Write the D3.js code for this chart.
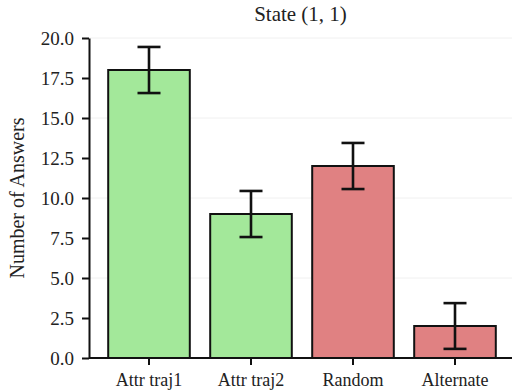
<!DOCTYPE html>
<html>
<head>
<meta charset="utf-8">
<script src="https://cdn.jsdelivr.net/npm/d3@7"></script>
<style>
  body { margin: 0; background: #fff; }
  svg text { font-family: "Liberation Serif", "Times New Roman", serif; }
</style>
</head>
<body>
<div id="chart"></div>
<script>
const categories = ["Attr traj1", "Attr traj2", "Random", "Alternate"];
const answers = [18, 9, 12, 2];
const errors = [1.44, 1.44, 1.44, 1.43];
const barColors = ["#a3e89a", "#a3e89a", "#e08182", "#e08182"];
const yTicks = [0, 2.5, 5, 7.5, 10, 12.5, 15, 17.5, 20];
const gridTicks = [0, 5, 10, 15, 20];

const width = 512;
const height = 392;
const margin = { top: 38, right: 0, bottom: 34, left: 89 };

const svg = d3.select("#chart")
  .append("svg")
  .attr("width", width)
  .attr("height", height);

const x = d3.scaleBand()
  .domain(categories)
  .range([98, 506])
  .paddingInner(0.2)
  .paddingOuter(0.1);

const y = d3.scaleLinear()
  .domain([0, 20])
  .range([height - margin.bottom, margin.top]);

// faint grid
svg.append("g")
  .selectAll("line")
  .data(gridTicks)
  .join("line")
  .attr("x1", margin.left)
  .attr("x2", width)
  .attr("y1", d => y(d))
  .attr("y2", d => y(d))
  .attr("stroke", "#f0f0f0")
  .attr("stroke-width", 1);

// bars
svg.append("g")
  .selectAll("rect")
  .data(answers)
  .join("rect")
  .attr("x", (d, i) => x(categories[i]))
  .attr("y", d => y(d))
  .attr("width", x.bandwidth())
  .attr("height", d => y(0) - y(d))
  .attr("fill", (d, i) => barColors[i])
  .attr("stroke", "#111")
  .attr("stroke-width", 2);

// error bars
const capHalf = 11.5;
const eb = svg.append("g")
  .attr("stroke", "#111")
  .attr("stroke-width", 2.6);

answers.forEach((v, i) => {
  const cx = x(categories[i]) + x.bandwidth() / 2;
  eb.append("line")
    .attr("x1", cx).attr("x2", cx)
    .attr("y1", y(v - errors[i])).attr("y2", y(v + errors[i]));
  eb.append("line")
    .attr("x1", cx - capHalf).attr("x2", cx + capHalf)
    .attr("y1", y(v + errors[i])).attr("y2", y(v + errors[i]));
  eb.append("line")
    .attr("x1", cx - capHalf).attr("x2", cx + capHalf)
    .attr("y1", y(v - errors[i])).attr("y2", y(v - errors[i]));
});

// axes
const yAxis = d3.axisLeft(y)
  .tickValues(yTicks)
  .tickFormat(d3.format(".1f"))
  .tickSize(7)
  .tickSizeOuter(0)
  .tickPadding(8);

const gy = svg.append("g")
  .attr("transform", `translate(${margin.left},0)`)
  .call(yAxis);

const xAxis = d3.axisBottom(x)
  .tickSize(7)
  .tickSizeOuter(0)
  .tickPadding(8);

const gx = svg.append("g")
  .attr("transform", `translate(0,${y(0)})`)
  .call(xAxis);

gx.select(".domain").attr("d", `M${margin.left},0H${width}`);

[gx, gy].forEach(g => {
  g.select(".domain").attr("stroke", "#111").attr("stroke-width", 2);
  g.selectAll(".tick line").attr("stroke", "#111").attr("stroke-width", 2);
  g.selectAll(".tick text")
    .attr("fill", "#222")
    .style("font-family", '"Liberation Serif", "Times New Roman", serif')
    .style("font-size", "19px");
});
gx.selectAll(".tick text").style("font-size", "18px");

// title
svg.append("text")
  .attr("x", (margin.left + width) / 2)
  .attr("y", 21)
  .attr("text-anchor", "middle")
  .attr("fill", "#222")
  .style("font-size", "21px")
  .text("State (1, 1)");

// y label
svg.append("text")
  .attr("transform", `translate(24,${(y(0) + y(20)) / 2}) rotate(-90)`)
  .attr("text-anchor", "middle")
  .attr("fill", "#222")
  .style("font-size", "20px")
  .text("Number of Answers");
</script>
</body>
</html>
